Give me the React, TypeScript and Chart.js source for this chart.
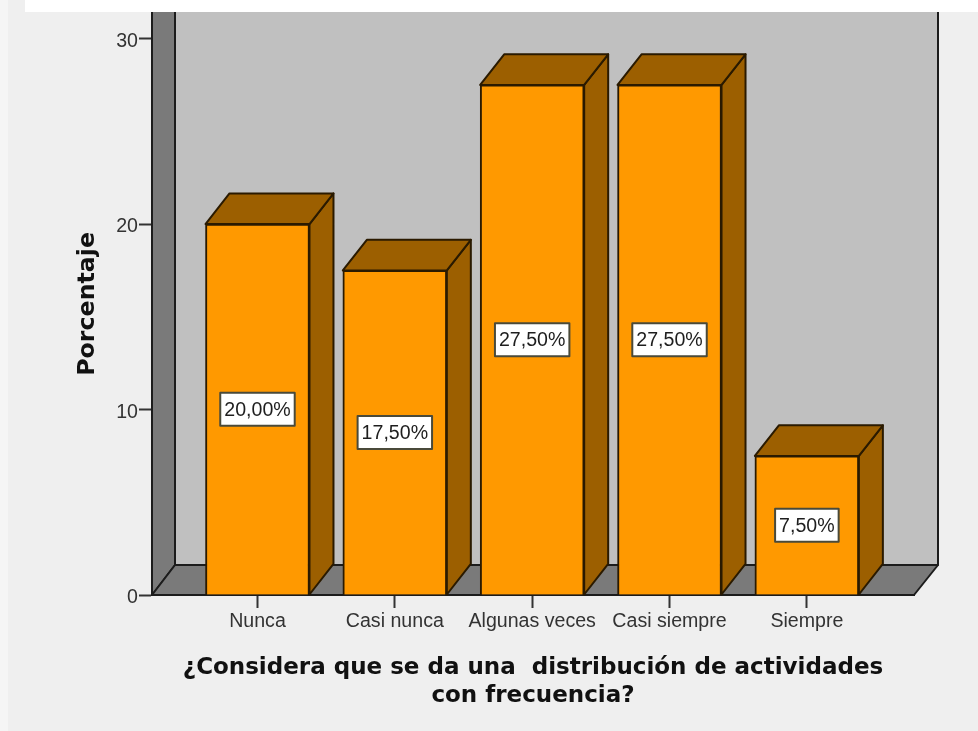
import React, { useEffect, useRef } from "react";
import { Chart, registerables, Plugin } from "chart.js";

Chart.register(...registerables);

const categories = ["Nunca", "Casi nunca", "Algunas veces", "Casi siempre", "Siempre"];
const percentages = [20, 17.5, 27.5, 27.5, 7.5];
const valueLabels = ["20,00%", "17,50%", "27,50%", "27,50%", "7,50%"];
const yTicks = [0, 10, 20, 30];
const xTitle = ["¿Considera que se da una  distribución de actividades", "con frecuencia?"];
const yTitle = "Porcentaje";

const DEPTH_X = 23;
const DEPTH_Y = 30;
const BAR_DEPTH_X = 24;
const BAR_DEPTH_Y = 30.6;
const LINE = "#1c1c1c";
const SANS = "'Liberation Sans', Arial, sans-serif";
const TITLE_FONT = "'DejaVu Sans', sans-serif";

function poly(ctx: CanvasRenderingContext2D, pts: number[][], fill: string, stroke: string, lw = 2) {
  ctx.beginPath();
  pts.forEach(([x, y], i) => (i ? ctx.lineTo(x, y) : ctx.moveTo(x, y)));
  ctx.closePath();
  ctx.fillStyle = fill;
  ctx.fill();
  ctx.lineWidth = lw;
  ctx.lineJoin = "round";
  ctx.strokeStyle = stroke;
  ctx.stroke();
}

const scene: Plugin<"bar"> = {
  id: "scene",
  beforeDraw(chart) {
    const { ctx, width, height } = chart;
    ctx.save();
    ctx.fillStyle = "#f5f5f5";
    ctx.fillRect(0, 0, width, height);
    ctx.fillStyle = "#efefef";
    ctx.fillRect(8, 0, width - 8, height);
    ctx.restore();
  },
  beforeDatasetsDraw(chart) {
    const { ctx, chartArea: a } = chart;
    const top = a.top - 6;
    ctx.save();
    poly(ctx, [[a.left + DEPTH_X, top], [a.right + DEPTH_X + 1, top], [a.right + DEPTH_X + 1, a.bottom - DEPTH_Y], [a.left + DEPTH_X, a.bottom - DEPTH_Y]], "#c0c0c0", LINE);
    poly(ctx, [[a.left, top], [a.left + DEPTH_X, top], [a.left + DEPTH_X, a.bottom - DEPTH_Y], [a.left, a.bottom]], "#7a7a7a", LINE);
    poly(ctx, [[a.left, a.bottom], [a.left + DEPTH_X, a.bottom - DEPTH_Y], [a.right + DEPTH_X + 1, a.bottom - DEPTH_Y], [a.right, a.bottom]], "#7a7a7a", LINE);
    ctx.restore();
  },
  afterDatasetsDraw(chart) {
    const { ctx } = chart;
    const meta = chart.getDatasetMeta(0);
    ctx.save();
    meta.data.forEach((el: any, i) => {
      const l = el.x - el.width / 2;
      const r = el.x + el.width / 2;
      const t = el.y;
      const b = el.base;
      poly(ctx, [[r, t], [r + BAR_DEPTH_X, t - BAR_DEPTH_Y], [r + BAR_DEPTH_X, b - BAR_DEPTH_Y], [r, b]], "#9c5f00", "#2a1a00");
      poly(ctx, [[l, t], [l + BAR_DEPTH_X, t - BAR_DEPTH_Y], [r + BAR_DEPTH_X, t - BAR_DEPTH_Y], [r, t]], "#9c5f00", "#2a1a00");

      const text = valueLabels[i];
      ctx.font = `19.6px ${SANS}`;
      const tw = ctx.measureText(text).width;
      const cy = (t + b) / 2;
      const bw = tw + 8;
      const bh = 33;
      ctx.fillStyle = "#ffffff";
      ctx.strokeStyle = "#4a4a3a";
      ctx.lineWidth = 2;
      ctx.fillRect(el.x - bw / 2, cy - bh / 2, bw, bh);
      ctx.strokeRect(el.x - bw / 2, cy - bh / 2, bw, bh);
      ctx.fillStyle = "#1e1e1e";
      ctx.textAlign = "center";
      ctx.textBaseline = "middle";
      ctx.fillText(text, el.x, cy + 1);
    });
    ctx.restore();
  },
  afterDraw(chart) {
    const { ctx, width } = chart;
    ctx.save();
    ctx.fillStyle = "#ffffff";
    ctx.fillRect(25, 0, width - 25, 12);
    ctx.restore();
  },
};

export default function App() {
  const ref = useRef<HTMLCanvasElement>(null);
  useEffect(() => {
    document.body.style.margin = "0";
    const chart = new Chart(ref.current!, {
      type: "bar",
      data: {
        datasets: [
          {
            data: categories.map((_, i) => ({ x: i + 1, y: percentages[i] })),
            backgroundColor: "#ff9900",
            borderColor: "#2a1a00",
            borderWidth: 2,
            barThickness: 104,
          } as any,
        ],
      },
      options: {
        animation: false,
        responsive: false,
        layout: { padding: { top: 12, right: 64, left: 0, bottom: 0 } },
        plugins: { legend: { display: false }, tooltip: { enabled: false } },
        scales: {
          x: {
            type: "linear",
            offset: false,
            min: 0.232,
            max: 5.78,
            afterFit: (s: any) => { s.height = 136; },
            afterBuildTicks: (s: any) => { s.ticks = categories.map((_, i) => ({ value: i + 1 })); },
            border: { color: LINE, width: 2 },
            grid: { offset: false, drawOnChartArea: false, drawTicks: true, tickLength: 13, tickColor: "#333", tickWidth: 2 },
            ticks: {
              autoSkip: false,
              maxRotation: 0,
              padding: 2,
              color: "#333",
              font: { family: SANS, size: 19.6 },
              callback: (v: any) => categories[Number(v) - 1],
            },
            title: {
              display: true,
              text: xTitle,
              color: "#111",
              font: { family: TITLE_FONT, size: 23, weight: "bold", lineHeight: 1.22 },
              padding: { top: 0, bottom: 21 },
            },
          },
          y: {
            min: 0,
            max: 31.39,
            afterFit: (s: any) => { s.width = 152; },
            afterBuildTicks: (s: any) => { s.ticks = yTicks.map((value) => ({ value })); },
            border: { color: LINE, width: 2 },
            grid: { drawOnChartArea: false, drawTicks: true, tickLength: 13, tickColor: "#333", tickWidth: 2 },
            ticks: {
              padding: 1,
              labelOffset: 3,
              color: "#333",
              font: { family: SANS, size: 19.6 },
            },
            title: {
              display: true,
              text: yTitle,
              color: "#111",
              font: { family: TITLE_FONT, size: 23.7, weight: "bold" },
              padding: { top: 74, bottom: 0 },
            },
          },
        },
      },
      plugins: [scene as any],
    } as any);
    return () => chart.destroy();
  }, []);
  return (
    <canvas
      ref={ref}
      width={978}
      height={731}
      style={{ position: "absolute", left: 0, top: 0, width: 978, height: 731, display: "block", filter: "blur(0.4px)" }}
    />
  );
}
